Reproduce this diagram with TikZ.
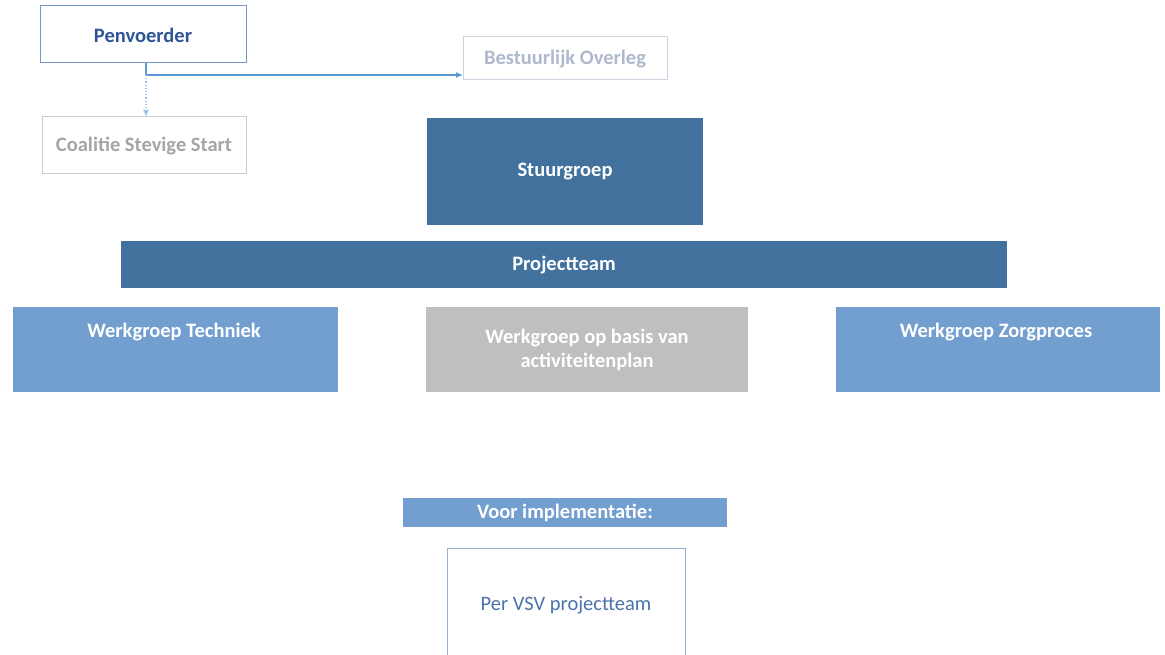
\documentclass[tikz,border=0pt]{standalone}
\usepackage{fontspec}
\setmainfont{Carlito}
\usetikzlibrary{arrows.meta}
\definecolor{darkb}{RGB}{66,113,158}
\definecolor{lightb}{RGB}{114,159,207}
\definecolor{grayb}{RGB}{191,191,191}
\definecolor{pentext}{RGB}{47,85,151}
\definecolor{penline}{RGB}{120,150,200}
\definecolor{bestext}{RGB}{175,185,205}
\definecolor{besline}{RGB}{205,212,225}
\definecolor{coaltext}{RGB}{165,165,165}
\definecolor{coalline}{RGB}{205,205,205}
\definecolor{arrowc}{RGB}{91,155,213}
\definecolor{vsvline}{RGB}{150,175,210}
\definecolor{vsvtext}{RGB}{75,115,170}
\begin{document}
\begin{tikzpicture}[x=1pt,y=-1pt,
  lbl/.style={font=\fontsize{20.5}{24}\selectfont\bfseries, align=center}]
\useasboundingbox (0,0) rectangle (1165,655);
% Penvoerder
\draw[penline, line width=1pt, fill=white] (40,6) rectangle (246,63);
\node[lbl, text=pentext] (pen) at (143,35) {Penvoerder};
\coordinate (penb) at (146,63);
% Bestuurlijk Overleg
\draw[besline, line width=1pt, fill=white] (463,37) rectangle (667,80);
\node[lbl, text=bestext] (bes) at (565,59) {Bestuurlijk Overleg};
\coordinate (besl) at (463,75);
% Coalitie
\draw[coalline, line width=1pt, fill=white] (42,117) rectangle (246,174);
\node[lbl, text=coaltext] (coal) at (144,146) {Coalitie Stevige Start};
\coordinate (coalt) at (146,117);
% connectors
\coordinate (corner) at (146,75);
\draw[arrowc, line width=1.2pt, -{Latex[length=7pt,width=6pt]}] (penb) -- (corner) -- (besl);
\draw[arrowc!60, line width=1.2pt, dotted, -{Latex[length=7pt,width=6pt]}] (corner) -- (coalt);
% Stuurgroep
\fill[darkb] (427,118) rectangle (703,225);
\node[lbl, text=white] (stuur) at (565,172) {Stuurgroep};
% Projectteam
\fill[darkb] (121,241) rectangle (1007,288);
\node[lbl, text=white] (proj) at (564,265) {Projectteam};
% Werkgroepen
\fill[lightb] (13,307) rectangle (338,392);
\node[lbl, text=white] (tech) at (174,332) {Werkgroep Techniek};
\fill[grayb] (426,307) rectangle (748,392);
\node[lbl, text=white] (act) at (587,350) {Werkgroep op basis van\\activiteitenplan};
\fill[lightb] (836,307) rectangle (1160,392);
\node[lbl, text=white] (zorg) at (996,332) {Werkgroep Zorgproces};
% Voor implementatie
\fill[lightb] (403,498) rectangle (727,527);
\node[lbl, text=white] (voor) at (565,513) {Voor implementatie:};
% Per VSV projectteam
\draw[vsvline, line width=1pt, fill=white] (447,548) rectangle (685,660);
\node[font=\fontsize{20.5}{24}\selectfont, text=vsvtext] (vsv) at (566,605) {Per VSV projectteam};
\end{tikzpicture}
\end{document}
